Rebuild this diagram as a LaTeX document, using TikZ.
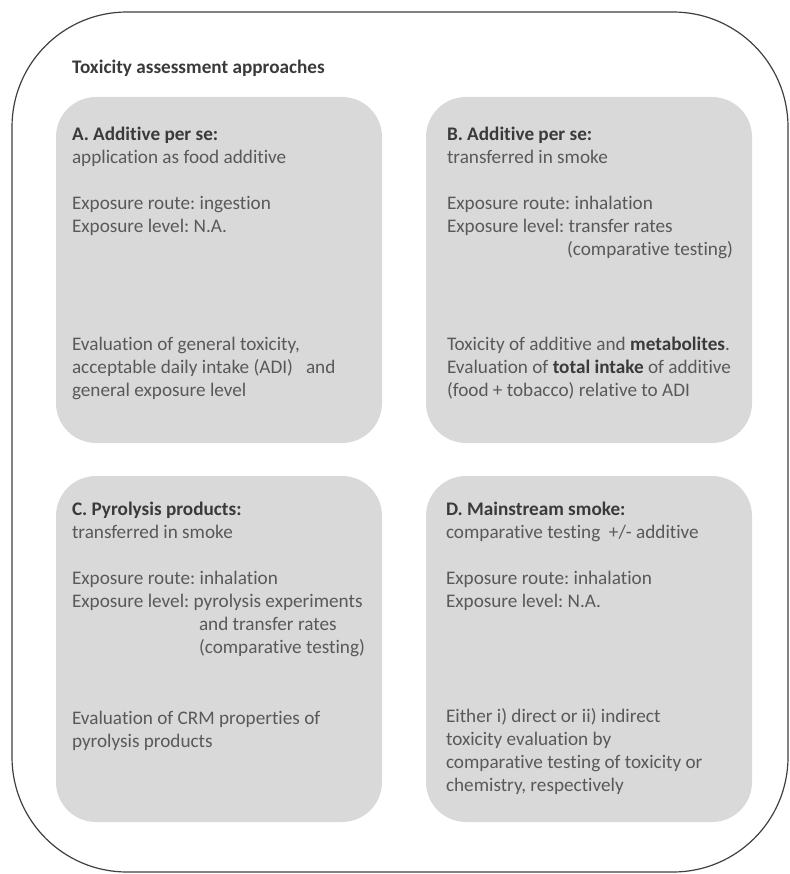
\documentclass[tikz,border=0pt]{standalone}
\usepackage{fontspec}
\setmainfont[Ligatures=NoCommon]{Carlito}
\usetikzlibrary{positioning}
\frenchspacing

\definecolor{boxgrey}{HTML}{D9D9D9}
\definecolor{textgrey}{HTML}{595959}
\definecolor{headgrey}{HTML}{3A3A3A}
\definecolor{framegrey}{HTML}{3F3F3F}

% bold words are set darker than the running text
\newcommand{\hl}[1]{\textbf{\color{headgrey}#1}}

\begin{document}
\begin{tikzpicture}[x=1pt,y=-1pt,
    approach/.style={fill=boxgrey, rounded corners=40pt, inner sep=0pt,
      minimum width=326pt, minimum height=346pt},
    body/.style={anchor=north west, align=left, inner sep=0pt, text=textgrey,
      font=\fontsize{19.2}{23}\selectfont}]
  \useasboundingbox (0,0) rectangle (789,874);

  % outer frame
  \draw[framegrey, line width=1.2pt, rounded corners=115pt] (12,12) rectangle (788,872);

  \node[body, anchor=base west] (title) at (72,74) {\hl{Toxicity assessment approaches}};

  % the four grey boxes
  \node[approach] (boxA) at (219,270) {};
  \node[approach] (boxB) at (589,270) {};
  \node[approach] (boxC) at (219,649) {};
  \node[approach] (boxD) at (589,649) {};

  % \strut on the first line keeps the top of each text at the same height
  \node[body] (textA) at ([shift={(16,27)}]boxA.north west) {%
    \strut\hl{A. Additive per se:}\\
    application as food additive\\[23pt]
    Exposure route: ingestion\\
    Exposure level: N.A.\\[95pt]
    Evaluation of general toxicity,\\
    acceptable daily intake (ADI)\ \ \ and\\
    general exposure level};

  \node[body] (textB) at ([shift={(21,27)}]boxB.north west) {%
    \strut\hl{B. Additive per se:}\\
    transferred in smoke\\[23pt]
    Exposure route: inhalation\\
    Exposure level: transfer rates\\
    \hspace*{120pt}(comparative testing)\\[72pt]
    Toxicity of additive and \hl{metabolites}.\\
    Evaluation of \hl{total intake} of additive\\
    (food + tobacco) relative to ADI};

  \node[body] (textC) at ([shift={(16,23)}]boxC.north west) {%
    \strut\hl{C. Pyrolysis products:}\\
    transferred in smoke\\[23pt]
    Exposure route: inhalation\\
    Exposure level: pyrolysis experiments\\
    \hspace*{127pt}and transfer rates\\
    \hspace*{127pt}(comparative testing)\\[48pt]
    Evaluation of CRM properties of\\
    pyrolysis products};

  \node[body] (textD) at ([shift={(20,23)}]boxD.north west) {%
    \strut\hl{D. Mainstream smoke:}\\
    comparative testing\ \ +/- additive\\[23pt]
    Exposure route: inhalation\\
    Exposure level: N.A.\\[92pt]
    Either i) direct or ii) indirect\\
    toxicity evaluation by\\
    comparative testing of toxicity or\\
    chemistry, respectively};
\end{tikzpicture}
\end{document}
